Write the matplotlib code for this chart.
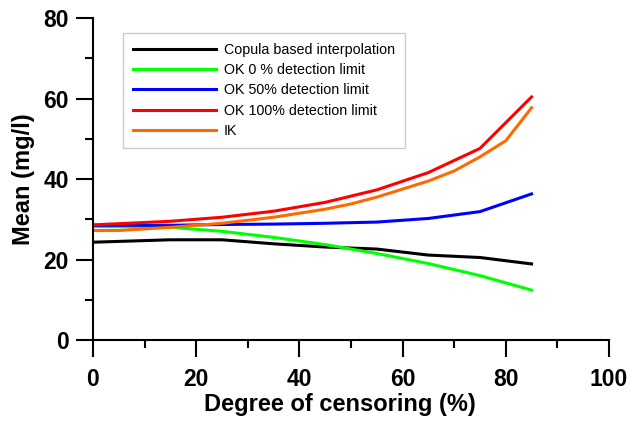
import matplotlib
matplotlib.use("Agg")
import matplotlib.pyplot as plt
from matplotlib.ticker import MultipleLocator

plt.rcParams["font.family"] = ["Liberation Sans", "DejaVu Sans"]

# mean concentration vs degree of censoring, one series per method
x_copula = [0, 15, 25, 35, 45, 55, 65, 75, 85]
copula = [24.3, 24.9, 24.9, 23.9, 23.1, 22.6, 21.1, 20.5, 18.9]

x_ok = [0, 15, 25, 35, 45, 55, 65, 75, 85]
ok0 = [28.2, 28.0, 27.0, 25.5, 23.7, 21.5, 19.0, 16.0, 12.4]
ok50 = [28.5, 28.5, 28.7, 28.8, 29.0, 29.3, 30.2, 31.9, 36.3]
ok100 = [28.6, 29.5, 30.5, 32.0, 34.2, 37.3, 41.6, 47.6, 60.4]

x_ik = [0, 5, 15, 25, 35, 45, 50, 55, 65, 70, 75, 80, 85]
ik = [27.2, 27.2, 28.0, 29.0, 30.5, 32.5, 33.8, 35.5, 39.5, 42.0, 45.5, 49.5, 57.7]

fig = plt.figure(figsize=(6.3, 4.22), dpi=100)
ax = fig.add_axes([0.1476, 0.1943, 0.819, 0.763])

lw = 2.2
ax.plot(x_copula, copula, color="black", lw=lw, label="Copula based interpolation")
ax.plot(x_ok, ok0, color="#00ff00", lw=lw, label="OK 0 % detection limit")
ax.plot(x_ok, ok50, color="#0000ff", lw=lw, label="OK 50% detection limit")
ax.plot(x_ok, ok100, color="#ff0000", lw=lw, label="OK 100% detection limit")
ax.plot(x_ik, ik, color="#ff6a00", lw=lw, label="IK")

ax.set_xlim(0, 100)
ax.set_ylim(0, 80)
ax.xaxis.set_major_locator(MultipleLocator(20))
ax.xaxis.set_minor_locator(MultipleLocator(10))
ax.yaxis.set_major_locator(MultipleLocator(20))
ax.yaxis.set_minor_locator(MultipleLocator(10))

for s in ("top", "right"):
    ax.spines[s].set_visible(False)
for s in ("left", "bottom"):
    ax.spines[s].set_linewidth(1.5)

ax.tick_params(which="major", direction="out", length=12.5, width=1.5, labelsize=16.5)
ax.tick_params(axis="x", which="major", pad=8)
ax.tick_params(axis="y", which="major", pad=5)
ax.tick_params(which="minor", direction="out", length=6, width=1.5)
for lab in ax.get_xticklabels() + ax.get_yticklabels():
    lab.set_fontweight("bold")

ax.set_xlabel("Degree of censoring (%)", fontsize=17, fontweight="bold",
              labelpad=1, x=0.479)
ax.set_ylabel("Mean (mg/l)", fontsize=17, fontweight="bold", labelpad=6)

leg = ax.legend(loc="upper left", bbox_to_anchor=(0.058, 0.954), fontsize=10.3,
                handlelength=5.8, handletextpad=0.55, fancybox=False, framealpha=1,
                borderpad=0.72, labelspacing=0.43, borderaxespad=0)
leg.get_frame().set_edgecolor("#cccccc")
leg.get_frame().set_linewidth(1.0)

fig.savefig("out.png", dpi=100)
